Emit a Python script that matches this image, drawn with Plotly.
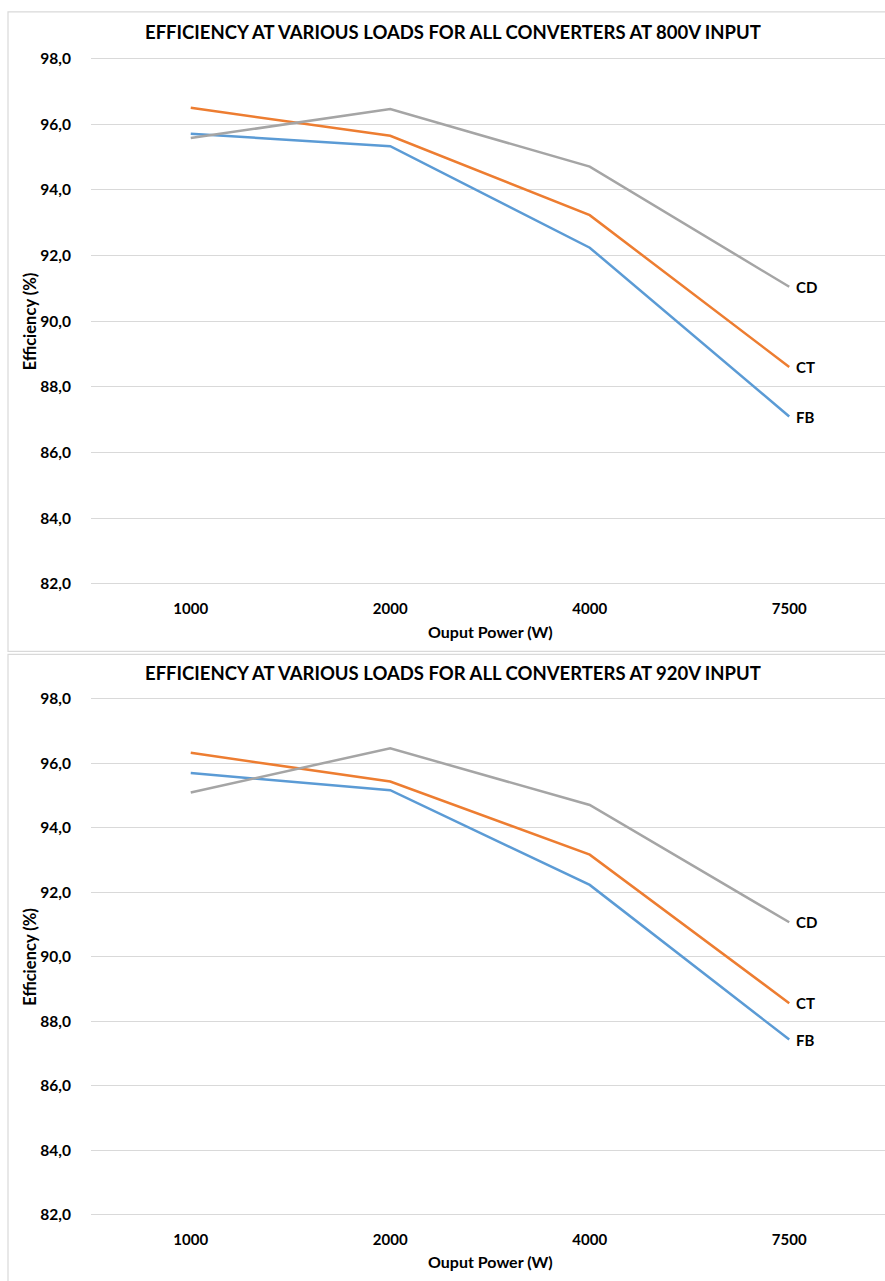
import plotly.graph_objects as go

W, H = 885, 1281

loads = ["1000", "2000", "4000", "7500"]

# 800 V input
fb_800 = [95.71, 95.33, 92.24, 87.10]
ct_800 = [96.50, 95.65, 93.23, 88.61]
cd_800 = [95.58, 96.46, 94.71, 91.05]

# 920 V input
fb_920 = [95.70, 95.17, 92.23, 87.43]
ct_920 = [96.33, 95.44, 93.17, 88.56]
cd_920 = [95.10, 96.47, 94.71, 91.07]

y_ticks = [82, 84, 86, 88, 90, 92, 94, 96, 98]

series_names = ["FB", "CT", "CD"]
colors = {"FB": "#5B9BD5", "CT": "#ED7D31", "CD": "#A5A5A5"}

panels = [
    {"title": "EFFICIENCY AT VARIOUS LOADS FOR ALL CONVERTERS AT 800V INPUT",
     "data": {"FB": fb_800, "CT": ct_800, "CD": cd_800},
     "top": 49.7, "bottom": 586.3, "frame": (6, 651), "title_y": 26, "xtitle_y": 631},
    {"title": "EFFICIENCY AT VARIOUS LOADS FOR ALL CONVERTERS AT 920V INPUT",
     "data": {"FB": fb_920, "CT": ct_920, "CD": cd_920},
     "top": 695.75, "bottom": 1222.25, "frame": (654, 1290), "title_y": 673, "xtitle_y": 1266},
]

FONT = "Lato"
fig = go.Figure()
annotations = []
shapes = []

def py(p):
    return 1 - p / H

for i, panel in enumerate(panels):
    n = "" if i == 0 else str(i + 1)
    xa, ya = "x" + n, "y" + n
    for name in series_names:
        vals = panel["data"][name]
        fig.add_trace(go.Scatter(
            x=loads, y=vals, mode="lines", name=name,
            line=dict(color=colors[name], width=2.5),
            xaxis=xa, yaxis=ya, showlegend=False, hoverinfo="x+y+name",
        ))
        # series name next to its last point (category index on the x axis)
        annotations.append(dict(
            x=len(loads) - 1, y=vals[-1], xref=xa, yref=ya, text=name,
            showarrow=False, xanchor="left", yanchor="middle", xshift=5,
            font=dict(family=FONT, size=15, color="#000000", weight="bold"),
        ))
    layout_x = dict(
        type="category", domain=[91 / W, 1], range=[-0.5, 3.48],
        anchor=ya, showgrid=False, showline=False, zeroline=False,
        ticks="outside", ticklen=8, tickcolor="#FFFFFF",
        tickfont=dict(family=FONT, size=15, color="#000000", weight="bold"),
    )
    layout_y = dict(
        domain=[py(panel["bottom"]), py(panel["top"])], range=[81.9, 98.1],
        anchor=xa, tickmode="array", tickvals=y_ticks, tickformat=".1f",
        showgrid=True, gridcolor="#D9D9D9", gridwidth=1,
        zeroline=False, showline=False,
        ticks="outside", ticklen=16, tickwidth=1, tickcolor="#FFFFFF",
        tickfont=dict(family=FONT, size=15.5, color="#000000", weight="bold"),
    )
    fig.update_layout({"xaxis" + n: layout_x, "yaxis" + n: layout_y})

    annotations.append(dict(
        x=453 / W, y=py(panel["title_y"]), xref="paper", yref="paper",
        text=panel["title"], showarrow=False, xanchor="center", yanchor="middle",
        font=dict(family=FONT, size=18.5, color="#000000", weight="bold"),
    ))
    annotations.append(dict(
        x=490 / W, y=py(panel["xtitle_y"]), xref="paper", yref="paper",
        text="Ouput Power (W)", showarrow=False, xanchor="center", yanchor="middle",
        font=dict(family=FONT, size=16, color="#000000", weight="bold"),
    ))
    mid = (panel["top"] + panel["bottom"]) / 2
    annotations.append(dict(
        x=30 / W, y=py(mid), xref="paper", yref="paper",
        text="Efficiency (%)", showarrow=False, textangle=-90,
        xanchor="center", yanchor="middle",
        font=dict(family=FONT, size=16.5, color="#000000", weight="bold"),
    ))
    f0, f1 = panel["frame"]
    shapes.append(dict(
        type="rect", xref="paper", yref="paper",
        x0=8 / W, x1=1.02, y0=py(f1), y1=py(f0),
        line=dict(color="#D9D9D9", width=1.2), fillcolor="rgba(0,0,0,0)", layer="below",
    ))

fig.update_layout(
    width=W, height=H, margin=dict(l=0, r=0, t=0, b=0),
    paper_bgcolor="#FFFFFF", plot_bgcolor="#FFFFFF",
    separators=", ", annotations=annotations, shapes=shapes,
    showlegend=False,
)

fig.write_html("out.html")
